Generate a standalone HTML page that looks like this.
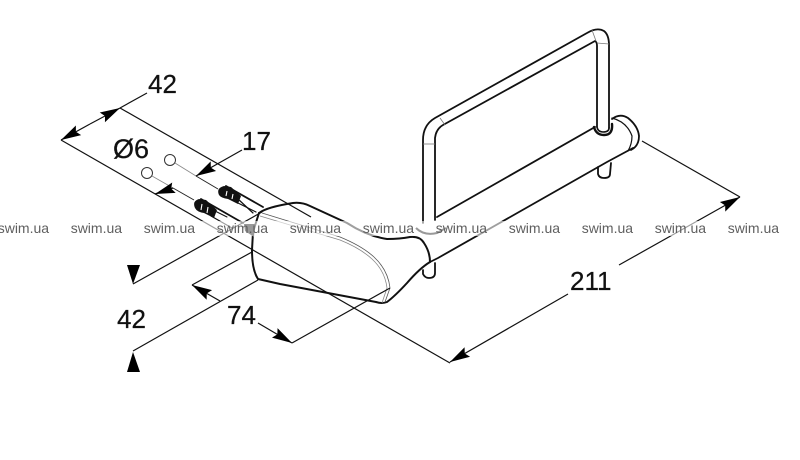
<!DOCTYPE html>
<html><head><meta charset="utf-8"><style>
html,body{margin:0;padding:0;background:#fff;width:800px;height:460px;overflow:hidden}
svg{display:block}
.n{font-family:"Liberation Sans",sans-serif;font-size:26px;fill:#111;stroke:#111;stroke-width:.25}
.w{font-family:"Liberation Sans",sans-serif;font-size:14px;fill:#5f5f5f}
</style></head><body>
<svg width="800" height="460" viewBox="0 0 800 460" xmlns="http://www.w3.org/2000/svg">
<defs><marker id="a" markerUnits="userSpaceOnUse" markerWidth="24" markerHeight="14" refX="21" refY="7" orient="auto"><path d="M21,7 L1,1.5 L4,7 L1,12.5 Z" fill="#000"/></marker></defs>

<!-- frame -->
<g fill="none" stroke="#111" stroke-width="1.8" stroke-linecap="round" stroke-linejoin="round">
<path d="M423,223 V140 Q423,125 435,118 L587,33 Q597,27 604,31 Q609,35 609,45 V128"/>
<path d="M435,220 V138 Q436,129 443,125 L595,41 Q597,42 597,46 V127"/>
<!-- tube -->
<path d="M437,217 L595,127"/>
<path d="M430,262 L438,258 L607,162 L633,148"/>
<!-- end cap -->
<path d="M612,119 Q620,113 628,118 Q638,126 639,136 Q639,146 631,150"/>
<path d="M612,118 Q627,122 632,136 Q632,144 628,151" stroke-width="1.2"/>
<!-- pins -->
<path d="M598,167 V174 Q599,178 604,178 Q610,178 610,174 L611,163"/>
<path d="M423,270 V274 Q425,278 429,278 Q435,278 435,273 V263"/>
<!-- collar -->
<path d="M594,127 Q596,135 604,135 Q613,135 612,124" stroke-width="2.4"/>
<path d="M597,127 Q598,132 603,132 Q609,132 609,128" stroke-width="1.6"/>
</g>
<g fill="none" stroke="#777" stroke-width="0.8">
<path d="M423,144 H435"/><path d="M440,118 L445,125"/><path d="M592,30 L596,41"/><path d="M597,43 L609,44"/>
</g>

<!-- handle -->
<path d="M260,213 Q267,207 293,203 Q302,202 310,206 L347,223 Q367,236 387,239 L417,237 Q428,245 430,262 Q420,272 407,283 Q395,296 387,302 Q382,304 376,302 L280,284 L258,279 Q252,270 252,250 Z" fill="#fff"/>
<g fill="none" stroke="#111" stroke-width="2" stroke-linejoin="round" stroke-linecap="round">
<path d="M259,213 Q267,207 293,203 Q302,202 310,206 L347,223 Q367,236 387,239 Q400,239 410,237 Q420,236 424,243 Q430,252 430,262"/>
<path d="M430,262 Q420,268 407,283 Q395,296 387,302 Q382,304 376,302 L280,284 L258,279 Q252,270 252,250 L253,232 L259,213"/>
</g>
<g fill="none" stroke="#555" stroke-width="0.8">
<path d="M262,213 L340,237 Q362,246 374,257 Q388,270 390,288 L385,302"/>
<path d="M260,216 L340,240 Q360,248 372,259 Q385,271 387,288 L382,303" stroke="#888"/>
</g>

<!-- slots -->
<g fill="none" stroke="#111" stroke-linecap="round">
<path d="M226,186 L263,207" stroke-width="1.8"/>
<path d="M236,202 L256,212" stroke-width="1.2"/>
<path d="M238,199 L253,213" stroke-width="1.2"/>
<path d="M201,199 L243,223" stroke-width="1.8"/>
<path d="M211,216 L232,228" stroke-width="1.2"/>
<path d="M213,210 L227,217" stroke-width="1"/>
</g>
<path d="M224,186 Q216,188 219,195 Q221,198 228,199 L238,204 L241,196 L231,187 Z" fill="#111"/>
<path d="M199,199 Q192,201 195,208 Q197,212 204,213 L214,218 L217,210 L206,200 Z" fill="#111"/>
<g stroke="#fff" stroke-width="1.1"><path d="M227,191 L226,196"/><path d="M233,194 L232,199"/><path d="M202,204 L201,210"/><path d="M208,207 L207,213"/></g>

<!-- holes -->
<circle cx="170" cy="160" r="5.5" fill="#fff" stroke="#333" stroke-width="1"/>
<circle cx="147" cy="173" r="5.5" fill="#fff" stroke="#333" stroke-width="1"/>
<g stroke="#888" stroke-width="0.8"><path d="M175,163 L196,176"/><path d="M152,176 L173,188"/></g>
<g stroke="#222" stroke-width="1"><path d="M196,176 L218,189"/><path d="M173,188 L194,200"/></g>

<!-- dimension lines -->
<g fill="none" stroke="#111" stroke-width="1.2">
<path d="M61,140 L450,363"/>
<path d="M120,108 L311,217"/>
<path d="M120,108 L147,93"/>
<path d="M90,124 L61,140" marker-end="url(#a)"/>
<path d="M90,124 L120,108" marker-end="url(#a)"/>
<path d="M242,150 L196,176" marker-end="url(#a)"/>
<path d="M173,188 L155,194" marker-end="url(#a)"/>
<path d="M262,212 L133,284"/>
<path d="M258,280 L133,351"/>
<path d="M252,252 L192,285"/>
<path d="M220,301 L192,285" marker-end="url(#a)"/>
<path d="M258,323 L292,343" marker-end="url(#a)"/>
<path d="M390,288 L292,343"/>
<path d="M568,294 L450,362" marker-end="url(#a)"/>
<path d="M619,265 L740,197" marker-end="url(#a)"/>
<path d="M642,141 L740,197"/>
</g>
<path d="M133,284 L127,265 H140 Z" fill="#000"/>
<path d="M133,352 L127,372 H140 Z" fill="#000"/>

<!-- watermark band -->
<rect x="0" y="221" width="800" height="15" fill="#fff" fill-opacity="0.6"/>
<path d="M244,224 L255,224 L254,237 L245,231 Z" fill="#999"/>
<path d="M416,228 Q424,236 437,233 L446,228" fill="none" stroke="#999" stroke-width="2"/>

<g class="w">
<text x="-2.3" y="233">swim.ua</text><text x="70.7" y="233">swim.ua</text><text x="143.7" y="233">swim.ua</text><text x="216.7" y="233">swim.ua</text><text x="289.7" y="233">swim.ua</text><text x="362.7" y="233">swim.ua</text><text x="435.7" y="233">swim.ua</text><text x="508.7" y="233">swim.ua</text><text x="581.7" y="233">swim.ua</text><text x="654.7" y="233">swim.ua</text><text x="727.7" y="233">swim.ua</text><text x="800.7" y="233">swim.ua</text>
</g>

<g class="n">
<text x="148" y="93">42</text>
<text x="113" y="158" style="font-size:27px">Ø6</text>
<text x="242" y="150">17</text>
<text x="117" y="328">42</text>
<text x="227" y="324">74</text>
<text x="570" y="290">211</text>
</g>
</svg>
</body></html>
